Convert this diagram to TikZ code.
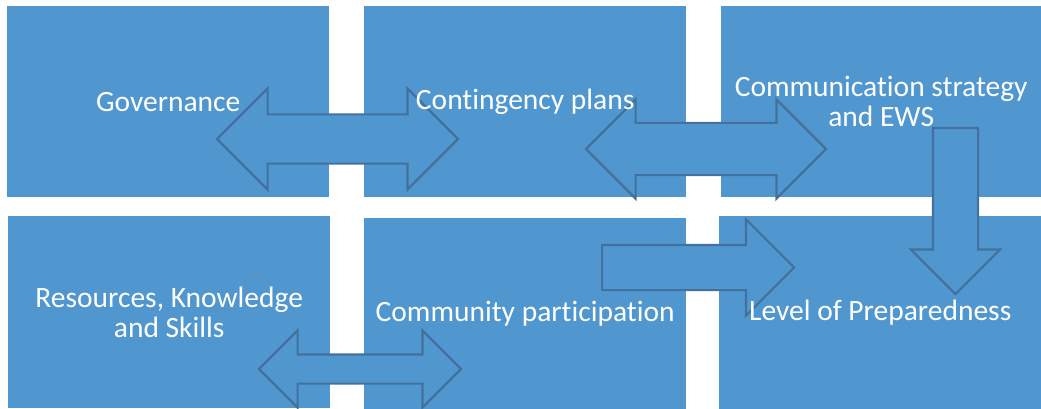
\documentclass[tikz,border=0pt]{standalone}
\usepackage{fontspec}
\setmainfont{Carlito}[Ligatures=NoCommon]
\usetikzlibrary{shapes.arrows}
\definecolor{boxblue}{RGB}{80,151,208}
\definecolor{edgeblue}{RGB}{65,113,156}

\begin{document}
\begin{tikzpicture}[x=1pt,y=-1pt,
  panel/.style={fill=boxblue,inner sep=0pt,anchor=north west},
  boxtext/.style={text=white,align=center,font=\fontsize{29.5}{30}\selectfont},
  blockarrow/.style={fill=boxblue,draw=edgeblue,line width=2.2pt,inner xsep=0pt},
  dblarrow/.style={blockarrow,double arrow,double arrow tip angle=90},
  sglarrow/.style={blockarrow,single arrow,single arrow tip angle=90}]
\useasboundingbox (0,0) rectangle (1041,409);

% the six panels
\node[panel,minimum width=322,minimum height=191] (gov) at (7,6) {};
\node[panel,minimum width=322,minimum height=191] (plans) at (364,6) {};
\node[panel,minimum width=320,minimum height=191] (comm) at (721,6) {};
\node[panel,minimum width=322,minimum height=192] (res) at (8,216) {};
\node[panel,minimum width=322,minimum height=191] (part) at (364,218) {};
\node[panel,minimum width=322,minimum height=193] (prep) at (719,216) {};

% block arrows (inner ysep = half the shaft)
\node[dblarrow,inner ysep=23.5,minimum height=241,double arrow head extend=26] (gov-plans) at (337.5,139) {};
\node[dblarrow,inner ysep=25,minimum height=240,double arrow head extend=23.5] (plans-comm) at (706,149) {};
\node[sglarrow,rotate=-90,anchor=tail,inner ysep=21.5,minimum height=166,single arrow head extend=22] (comm-prep) at (955.5,127) {};
\node[sglarrow,anchor=tail,inner ysep=21.5,minimum height=192,single arrow head extend=25.5] (part-prep) at (601,267.5) {};
\node[dblarrow,inner ysep=13.5,minimum height=202,double arrow head extend=24] (res-part) at (360,369) {};

% texts
\node[boxtext] (gov-t) at (gov) {Governance};
\node[boxtext] (plans-t) at (plans) {Contingency plans};
\node[boxtext] (comm-t) at (comm) {Communication strategy\\and EWS};
\node[boxtext] (res-t) at (res) {Resources, Knowledge\\and Skills};
\node[boxtext] (part-t) at (part) {Community participation};
\node[boxtext] (prep-t) at (prep) {Level of Preparedness};
\end{tikzpicture}
\end{document}
